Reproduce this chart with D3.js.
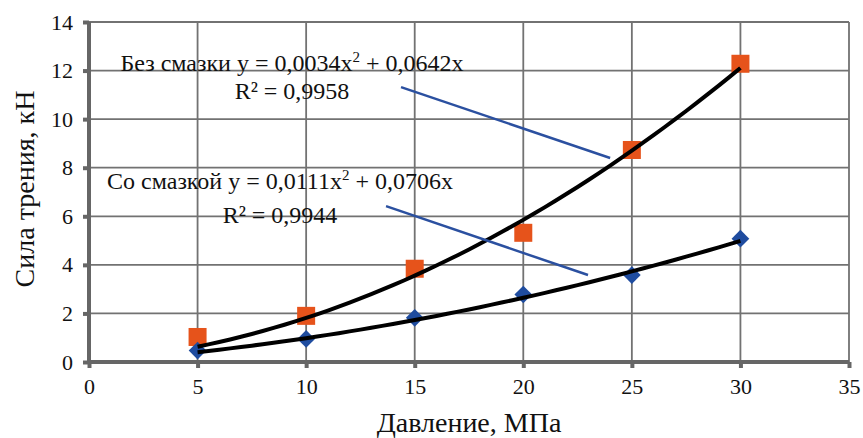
<!DOCTYPE html>
<html>
<head>
<meta charset="utf-8">
<script src="https://cdn.jsdelivr.net/npm/d3@7"></script>
<style>
  html, body { margin: 0; padding: 0; background: #fff; }
  svg text { font-family: "Liberation Serif", "Times New Roman", Times, "DejaVu Serif", serif !important; fill: #111; }
</style>
</head>
<body>
<div id="chart"></div>
<script>
// pressure values, MPa
var pressure = [5, 10, 15, 20, 25, 30];
// friction force, kN
var dryForce = [1.03, 1.9, 3.84, 5.32, 8.73, 12.28];   // orange squares
var lubeForce = [0.47, 0.95, 1.82, 2.78, 3.58, 5.08];  // blue diamonds
// trend line coefficients [a, b] for y = a*x^2 + b*x
var dryTrend = [0.0111, 0.0706];
var lubeTrend = [0.0034, 0.0642];
var xTicks = [0, 5, 10, 15, 20, 25, 30, 35];
var yTicks = [0, 2, 4, 6, 8, 10, 12, 14];
// annotation texts
var dryLabel = ["Без смазки y = 0,0034x", "2", " + 0,0642x", "R² = 0,9958"];
var lubeLabel = ["Со смазкой y = 0,0111x", "2", " + 0,0706x", "R² = 0,9944"];
// pointer lines in data units [x1, y1, x2, y2]
var dryPointer = [14.37, 11.32, 24.0, 8.4];
var lubePointer = [13.68, 6.42, 22.98, 3.58];

(function () {
    "use strict";

    var width = 863, height = 438;
    var margin = {left: 89, right: 14, top: 22, bottom: 76};
    var serif = "'Liberation Serif', 'Times New Roman', Times, 'DejaVu Serif', serif";

    var svg = d3.select("#chart").append("svg")
        .attr("width", width)
        .attr("height", height)
        .attr("font-family", serif);

    var x = d3.scaleLinear().domain([0, 35]).range([margin.left, width - margin.right]);
    var y = d3.scaleLinear().domain([0, 14]).range([height - margin.bottom, margin.top]);

    var gridColor = "#727272";

    // grid
    svg.append("g").selectAll("line").data(xTicks).enter().append("line")
        .attr("x1", function (d) { return x(d); })
        .attr("x2", function (d) { return x(d); })
        .attr("y1", y(0)).attr("y2", y(14))
        .attr("stroke", gridColor).attr("stroke-width", 1.8);
    svg.append("g").selectAll("line").data(yTicks).enter().append("line")
        .attr("y1", function (d) { return y(d); })
        .attr("y2", function (d) { return y(d); })
        .attr("x1", x(0)).attr("x2", x(35))
        .attr("stroke", gridColor).attr("stroke-width", 1.8);

    // axes
    var xAxis = svg.append("g")
        .attr("transform", "translate(0," + y(0) + ")")
        .call(d3.axisBottom(x).tickValues(xTicks).tickSize(6).tickPadding(10));
    var yAxis = svg.append("g")
        .attr("transform", "translate(" + x(0) + ",0)")
        .call(d3.axisLeft(y).tickValues(yTicks).tickSize(6).tickPadding(10));

    [xAxis, yAxis].forEach(function (g) {
        g.attr("font-family", serif).attr("font-size", 22);
        g.select(".domain").attr("stroke", "#666").attr("stroke-width", 4);
        g.selectAll(".tick line").attr("stroke", "#666").attr("stroke-width", 4);
        g.selectAll(".tick text").attr("fill", "#111");
    });
    xAxis.select(".domain").attr("d", "M" + x(0) + ",0H" + x(35));
    yAxis.select(".domain").attr("d", "M0," + y(0) + "V" + y(14));

    // markers
    svg.append("g").selectAll("rect").data(pressure).enter().append("rect")
        .attr("x", function (d) { return x(d) - 9; })
        .attr("y", function (d, i) { return y(dryForce[i]) - 9; })
        .attr("width", 18).attr("height", 18)
        .attr("fill", "#e6531b");

    svg.append("g").selectAll("path").data(pressure).enter().append("path")
        .attr("d", d3.symbol().type(d3.symbolDiamond2).size(200))
        .attr("transform", function (d, i) {
            return "translate(" + x(d) + "," + y(lubeForce[i]) + ")";
        })
        .attr("fill", "#1f4c9f");

    // trend lines
    var xs = d3.range(5, 30.01, 0.5);
    var line = d3.line()
        .x(function (d) { return x(d[0]); })
        .y(function (d) { return y(d[1]); })
        .curve(d3.curveMonotoneX);

    [dryTrend, lubeTrend].forEach(function (c) {
        svg.append("path")
            .datum(xs.map(function (v) { return [v, c[0] * v * v + c[1] * v]; }))
            .attr("d", line)
            .attr("fill", "none")
            .attr("stroke", "#000")
            .attr("stroke-width", 4);
    });

    // pointer lines
    [dryPointer, lubePointer].forEach(function (p) {
        svg.append("line")
            .attr("x1", x(p[0])).attr("y1", y(p[1]))
            .attr("x2", x(p[2])).attr("y2", y(p[3]))
            .attr("stroke", "#2b50a0").attr("stroke-width", 2.5);
    });

    // annotations
    function annotate(lbl, cx, base1, base2) {
        var t = svg.append("text")
            .attr("x", cx).attr("y", base1)
            .attr("text-anchor", "middle")
            .attr("font-size", 24);
        t.append("tspan").text(lbl[0]);
        t.append("tspan").text(lbl[1]).attr("dy", -9).attr("font-size", 15);
        t.append("tspan").text(lbl[2]).attr("dy", 9);
        svg.append("text")
            .attr("x", cx).attr("y", base2)
            .attr("text-anchor", "middle")
            .attr("font-size", 24)
            .text(lbl[3]);
    }
    annotate(dryLabel, 292, 71, 99);
    annotate(lubeLabel, 280, 189, 223);

    // axis titles
    svg.append("text")
        .attr("x", (x(0) + x(35)) / 2)
        .attr("y", 432)
        .attr("text-anchor", "middle")
        .attr("font-size", 28)
        .text("Давление, МПа");

    svg.append("text")
        .attr("transform", "translate(34," + (y(7) - 3) + ") rotate(-90)")
        .attr("text-anchor", "middle")
        .attr("font-size", 28)
        .text("Сила трения, кН");
}());
</script>
</body>
</html>
